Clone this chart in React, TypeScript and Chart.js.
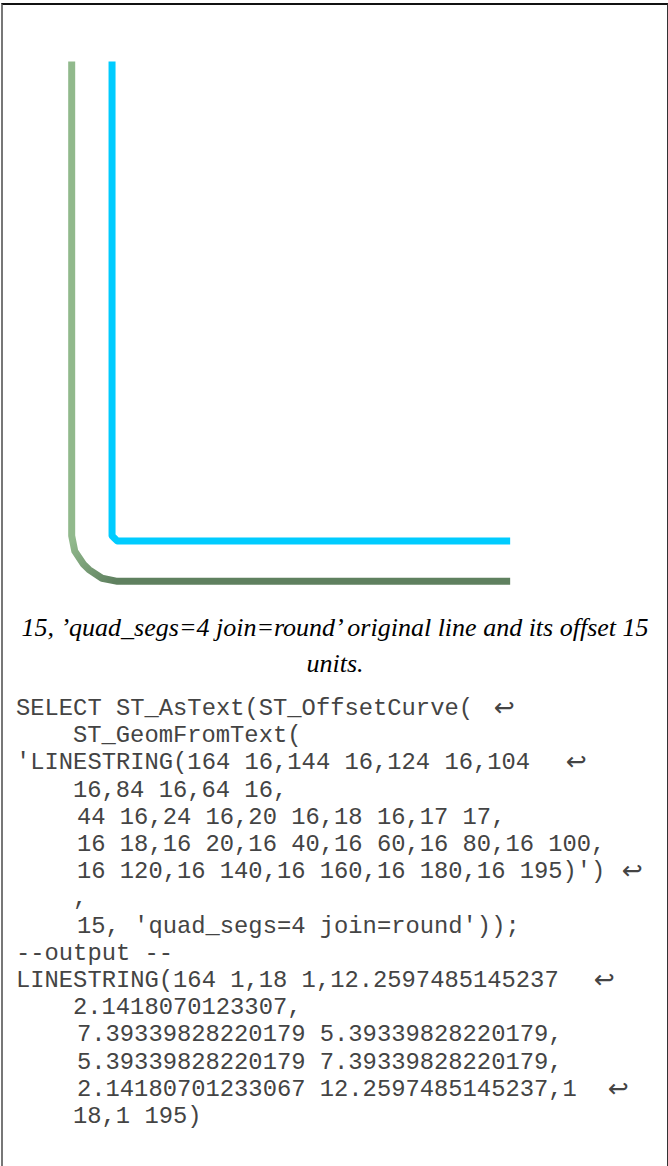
import React, { useEffect, useRef } from "react";
import { Chart, registerables } from "chart.js";

Chart.register(...registerables);

// Original line (LINESTRING input)
const originalX = [164, 144, 124, 104, 84, 64, 44, 24, 20, 18, 17, 16, 16, 16, 16, 16, 16, 16, 16, 16, 16, 16];
const originalY = [16, 16, 16, 16, 16, 16, 16, 16, 16, 16, 17, 18, 20, 40, 60, 80, 100, 120, 140, 160, 180, 195];

// Offset curve (output)
const offsetX = [164, 18, 12.2597485145237, 7.39339828220179, 5.39339828220179, 2.14180701233067, 1, 1];
const offsetY = [1, 1, 2.1418070123307, 5.39339828220179, 7.39339828220179, 12.2597485145237, 18, 195];

const caption1 = "15, \u2019quad_segs=4 join=round\u2019 original line and its offset 15";
const caption2 = "units.";

const codeLines: [string, number, number | null][] = [
  ["SELECT ST_AsText(ST_OffsetCurve(", 0, 494],
  ["ST_GeomFromText(", 57, null],
  ["'LINESTRING(164 16,144 16,124 16,104", 0, 566],
  ["16,84 16,64 16,", 57, null],
  ["44 16,24 16,20 16,18 16,17 17,", 61, null],
  ["16 18,16 20,16 40,16 60,16 80,16 100,", 61, null],
  ["16 120,16 140,16 160,16 180,16 195)')", 61, 622],
  [",", 57, null],
  ["15, 'quad_segs=4 join=round'));", 61, null],
  ["--output --", 0, null],
  ["LINESTRING(164 1,18 1,12.2597485145237", 0, 594],
  ["2.1418070123307,", 57, null],
  ["7.39339828220179 5.39339828220179,", 61, null],
  ["5.39339828220179 7.39339828220179,", 61, null],
  ["2.14180701233067 12.2597485145237,1", 61, 608],
  ["18,1 195)", 57, null],
];

const lightGreen = "rgb(145,185,140)";
const darkGreen = "rgb(95,128,95)";

export default function App() {
  const ref = useRef<HTMLCanvasElement | null>(null);
  useEffect(() => {
    if (!ref.current) return;
    const chart = new Chart(ref.current, {
      type: "scatter",
      data: {
        datasets: [
          {
            data: offsetX.map((x, i) => ({ x, y: offsetY[i] })),
            showLine: true,
            borderWidth: 7,
            borderColor: (ctx: any) => {
              const c = ctx.chart;
              const sx = c.scales?.x;
              const sy = c.scales?.y;
              if (!c.chartArea || !sx || !sy) return darkGreen;
              const g = c.ctx.createLinearGradient(
                sx.getPixelForValue(16),
                sy.getPixelForValue(0),
                sx.getPixelForValue(1),
                sy.getPixelForValue(16)
              );
              g.addColorStop(0, darkGreen);
              g.addColorStop(1, lightGreen);
              return g;
            },
            borderJoinStyle: "round",
            borderCapStyle: "butt",
            pointRadius: 0,
          },
          {
            data: originalX.map((x, i) => ({ x, y: originalY[i] })),
            showLine: true,
            borderWidth: 7,
            borderColor: "#00CCFF",
            borderJoinStyle: "round",
            borderCapStyle: "butt",
            pointRadius: 0,
          },
        ],
      },
      options: {
        responsive: false,
        animation: false,
        events: [],
        clip: false as any,
        layout: { padding: { left: 69, right: 61, top: 48, bottom: 16 } },
        scales: {
          x: { type: "linear", min: 0, max: 200, display: false },
          y: { type: "linear", min: 0, max: 200, display: false },
        },
        plugins: { legend: { display: false }, tooltip: { enabled: false } },
      },
    });
    return () => chart.destroy();
  }, []);

  const mono = "'Liberation Mono', 'DejaVu Sans Mono', monospace";
  return (
    <div style={{ position: "absolute", left: 0, top: 0, width: 668, height: 1166, overflow: "hidden", background: "#fff" }}>
      <div
        style={{
          position: "absolute",
          left: 1,
          top: 3,
          width: 664,
          height: 1175,
          borderTop: "2px solid #111",
          borderRight: "1px solid #333",
          borderLeft: "2px solid #777",
          borderBottom: "1px solid #333",
        }}
      />
      <canvas
        ref={ref}
        width={668}
        height={600}
        style={{ position: "absolute", left: 0, top: 0, width: 668, height: 600, filter: "blur(0.5px)" }}
      />
      <div
        style={{
          position: "absolute",
          left: 0,
          width: 670,
          top: 610,
          textAlign: "center",
          fontFamily: "'Liberation Serif', serif",
          fontStyle: "italic",
          fontSize: 26,
          lineHeight: "36px",
          whiteSpace: "nowrap",
          color: "#000",
        }}
      >
        <div>{caption1}</div>
        <div>{caption2}</div>
      </div>
      {codeLines.map(([txt, indent, arrow], i) => (
        <React.Fragment key={i}>
          <div
            style={{
              position: "absolute",
              left: 16 + indent,
              top: 697 + i * 27.2,
              fontFamily: mono,
              fontSize: 23.8,
              lineHeight: "24px",
              whiteSpace: "pre",
              color: "#444",
            }}
          >
            {txt}
          </div>
          {arrow !== null && (
            <div
              style={{
                position: "absolute",
                left: arrow,
                top: 696 + i * 27.2,
                fontFamily: "'DejaVu Sans', sans-serif",
                fontSize: 25,
                lineHeight: "24px",
                color: "#444",
              }}
            >
              {"\u21A9"}
            </div>
          )}
        </React.Fragment>
      ))}
    </div>
  );
}
